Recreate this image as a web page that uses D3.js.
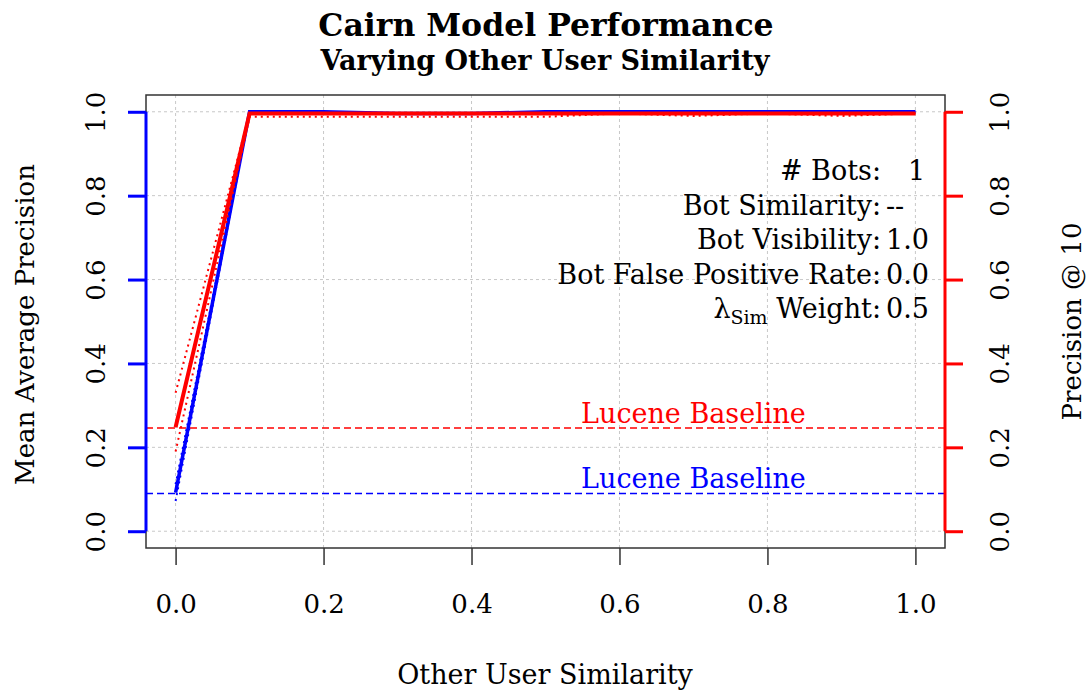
<!DOCTYPE html>
<html lang="en">
<head>
<meta charset="utf-8">
<style>

body {
  margin: 0;
  background: #fff;
}

svg text {
  font-family: "DejaVu Serif", serif;
  fill: #000;
}

.grid line {
  stroke: #c8c8c8;
  stroke-dasharray: 3,3;
}

</style>
</head>
<body>
<script src="https://d3js.org/d3.v7.min.js"></script>
<script>

// other user similarity (x) and the two measures
var simX      = [0.0, 0.1, 0.2, 0.3, 0.4, 0.5, 0.6, 0.7, 0.8, 0.9, 1.0];
var mapMean   = [0.092, 1.0, 1.0, 0.996, 0.996, 1.0, 1.0, 1.0, 1.0, 1.0, 1.0];
var mapLow    = [0.072, 1.0, 1.0, 0.996, 0.996, 1.0, 1.0, 1.0, 1.0, 1.0, 1.0];
var mapHigh   = [0.112, 1.0, 1.0, 0.996, 0.996, 1.0, 1.0, 1.0, 1.0, 1.0, 1.0];
var p10Mean   = [0.248, 0.996, 0.996, 0.996, 0.996, 0.996, 0.996, 0.996, 0.996, 0.996, 0.996];
var p10Low    = [0.19, 0.988, 0.988, 0.988, 0.988, 0.988, 0.996, 0.990, 0.996, 0.990, 0.996];
var p10High   = [0.33, 0.996, 0.996, 0.996, 0.996, 0.996, 0.996, 0.996, 0.996, 0.996, 0.996];

var mapBaseline = 0.09;
var p10Baseline = 0.246;

var tickVals = [0, 0.2, 0.4, 0.6, 0.8, 1.0];

var infoLabels = ["# Bots:", "Bot Similarity:", "Bot Visibility:", "Bot False Positive Rate:", "Weight:"];
var infoValues = ["1", "--", "1.0", "0.0", "0.5"];

var width = 1088,
    height = 693;

var box = {left: 146, right: 945, top: 95, bottom: 548};

var x = d3.scaleLinear()
    .domain([-0.04, 1.04])
    .range([box.left, box.right]);

var y = d3.scaleLinear()
    .domain([-0.04, 1.04])
    .range([box.bottom, box.top]);

var fmt = d3.format(".1f");

var svg = d3.select("body").append("svg")
    .attr("width", width)
    .attr("height", height);

// grid
var grid = svg.append("g").attr("class", "grid");
grid.selectAll(".gx").data(tickVals).enter().append("line")
    .attr("x1", function(d) { return x(d); })
    .attr("x2", function(d) { return x(d); })
    .attr("y1", box.top)
    .attr("y2", box.bottom);
grid.selectAll(".gy").data(tickVals).enter().append("line")
    .attr("y1", function(d) { return y(d); })
    .attr("y2", function(d) { return y(d); })
    .attr("x1", box.left)
    .attr("x2", box.right);

// baselines
function baseline(v, color, label) {
  svg.append("line")
      .attr("x1", box.left).attr("x2", box.right)
      .attr("y1", y(v)).attr("y2", y(v))
      .attr("stroke", color)
      .attr("stroke-width", 1.5)
      .attr("stroke-dasharray", "7,4");
  svg.append("text")
      .attr("x", x(0.7))
      .attr("y", y(v) - 5)
      .attr("text-anchor", "middle")
      .style("font-size", "27px")
      .style("fill", color)
      .text(label);
}
baseline(p10Baseline, "#ff0000", "Lucene Baseline");
baseline(mapBaseline, "#0000ff", "Lucene Baseline");

// series
function series(vals, color, w, dash) {
  var line = d3.line()
      .x(function(d, i) { return x(simX[i]); })
      .y(function(d) { return y(d); });
  svg.append("path")
      .datum(vals)
      .attr("d", line)
      .attr("fill", "none")
      .attr("stroke", color)
      .attr("stroke-width", w)
      .attr("stroke-dasharray", dash);
}
series(mapLow, "#0000ff", 2, "2,4");
series(mapHigh, "#0000ff", 2, "2,4");
series(mapMean, "#0000ff", 3.5, null);
series(p10Mean, "#ff0000", 4, null);
series(p10Low, "#ff0000", 2, "2,4");
series(p10High, "#ff0000", 2, "2,4");

// box
svg.append("rect")
    .attr("x", box.left).attr("y", box.top)
    .attr("width", box.right - box.left)
    .attr("height", box.bottom - box.top)
    .attr("fill", "none")
    .attr("stroke", "#333")
    .attr("stroke-width", 1.5);

// x axis
var xAxis = svg.append("g")
    .attr("transform", "translate(0," + box.bottom + ")")
    .call(d3.axisBottom(x).tickValues(tickVals).tickFormat(fmt).tickSize(17).tickPadding(30));
xAxis.select(".domain").remove();
xAxis.selectAll(".tick line").attr("stroke", "#333").attr("stroke-width", 1.5);
xAxis.selectAll("text").style("font-size", "26px").style("font-family", null);

// left (blue) and right (red) y axes
function yAxis(xpos, color, left) {
  var g = svg.append("g")
      .attr("transform", "translate(" + xpos + ",0)")
      .call((left ? d3.axisLeft(y) : d3.axisRight(y)).tickValues(tickVals).tickFormat(fmt).tickSize(18).tickSizeOuter(0));
  g.select(".domain")
      .attr("d", "M0," + y(0) + "V" + y(1))
      .attr("stroke", color)
      .attr("stroke-width", 3);
  g.selectAll(".tick line").attr("stroke", color).attr("stroke-width", 3);
  g.selectAll(".tick text")
      .attr("x", null).attr("dy", null)
      .attr("text-anchor", "middle")
      .attr("transform", "translate(" + (left ? -50 : 55) + ",0) rotate(-90)")
      .attr("y", 9)
      .style("font-size", "26px")
      .style("font-family", null);
}
yAxis(box.left, "#0000ff", true);
yAxis(box.right, "#ff0000", false);

// titles
svg.append("text")
    .attr("x", 546).attr("y", 36)
    .attr("text-anchor", "middle")
    .style("font-size", "31.5px").style("font-weight", "bold")
    .text("Cairn Model Performance");
svg.append("text")
    .attr("x", 545).attr("y", 70)
    .attr("text-anchor", "middle")
    .style("font-size", "27px").style("font-weight", "bold")
    .text("Varying Other User Similarity");

svg.append("text")
    .attr("x", 545).attr("y", 684)
    .attr("text-anchor", "middle")
    .style("font-size", "27px")
    .text("Other User Similarity");

var midY = (box.top + box.bottom) / 2;
svg.append("text")
    .attr("transform", "translate(34," + (midY + 3) + ") rotate(-90)")
    .attr("text-anchor", "middle")
    .style("font-size", "26px")
    .text("Mean Average Precision");
svg.append("text")
    .attr("transform", "translate(1081," + midY + ") rotate(-90)")
    .attr("text-anchor", "middle")
    .style("font-size", "26px")
    .text("Precision @ 10");

// run settings
var info = svg.append("g");
infoLabels.forEach(function(lab, i) {
  var yy = 180 + i * 34.6;
  var t = info.append("text")
      .attr("x", 881).attr("y", yy)
      .attr("text-anchor", "end")
      .style("font-size", "27px");
  if (i === infoLabels.length - 1) {
    t.append("tspan").text("\u03bb");
    t.append("tspan").attr("dy", 6).style("font-size", "19px").text("Sim");
    t.append("tspan").attr("dy", -6).text(" " + lab);
  } else {
    t.text(lab);
  }
  info.append("text")
      .attr("x", i === 0 ? 908 : 886).attr("y", yy)
      .style("font-size", "27px")
      .text(infoValues[i]);
});

</script>
</body>
</html>
